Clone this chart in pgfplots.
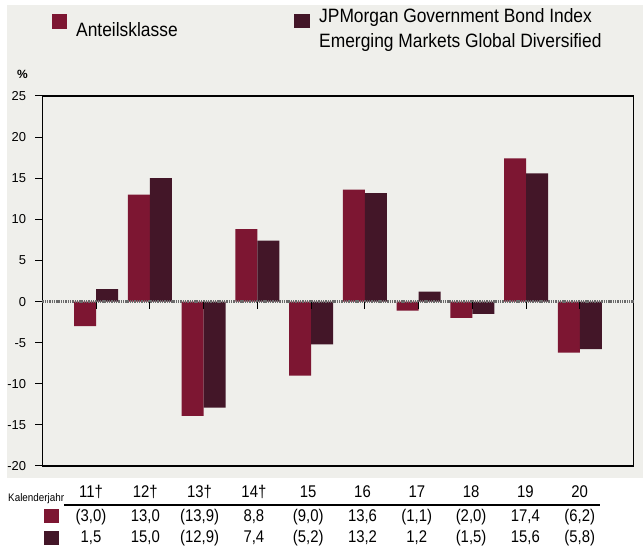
\documentclass[border=0pt]{standalone}
\usepackage{fontspec}
\setmainfont{Liberation Sans}
\newfontfamily\nf[FakeStretch=0.88]{Liberation Sans}
\newfontfamily\lf[FakeStretch=0.9]{Liberation Sans}
\usepackage{pgfplots}
\pgfplotsset{compat=1.18}
\definecolor{cRed}{HTML}{7D1632}
\definecolor{cDark}{HTML}{431628}
\definecolor{cBg}{HTML}{EFEFEB}
\definecolor{cZero}{HTML}{6A6A6A}
\newcommand{\tf}{\nf\fontsize{17}{17}\selectfont}
\begin{document}
\begin{tikzpicture}
\begin{scope}[x=1bp,y=1bp]
\useasboundingbox (0,0) rectangle (643,549);
\fill[white] (0,0) rectangle (643,549);
\fill[cBg] (7,71) rectangle (643,544);
\end{scope}
\begin{axis}[
  at={(42.3bp,83bp)}, anchor=south west,
  width=591.4bp, height=370bp, scale only axis,
  xmin=-1, xmax=10, ymin=-20, ymax=25,
  xtick=\empty,
  ytick={-20,-15,...,25},
  yticklabels={-20,-15,-10,-5,0,5,10,15,20,25},
  ytick pos=left,
  ytick align=outside,
  major tick length=7bp,
  ytick style={draw=black, line width=1bp},
  axis line style={black, line width=1.4bp},
  yticklabel style={font=\fontsize{13}{13}\selectfont, inner sep=0bp, xshift=-9bp},
  clip=false,
]
\addplot[ybar, bar width=22bp, fill=cRed, draw=none, bar shift=-11bp] coordinates {
  (0,-3.0) (1,13.0) (2,-13.9) (3,8.8) (4,-9.0) (5,13.6) (6,-1.1) (7,-2.0) (8,17.4) (9,-6.2)};
\addplot[ybar, bar width=22bp, fill=cDark, draw=none, bar shift=11bp] coordinates {
  (0,1.5) (1,15.0) (2,-12.9) (3,7.4) (4,-5.2) (5,13.2) (6,1.2) (7,-1.5) (8,15.6) (9,-5.8)};
\draw[cZero, line width=2.2bp, dash pattern=on 1.4bp off 0.9bp] (axis cs:-1,0) -- (axis cs:10,0);
\end{axis}
\begin{axis}[
  at={(42.3bp,83bp)}, anchor=south west,
  width=591.4bp, height=370bp, scale only axis,
  xmin=-1, xmax=10, ymin=-20, ymax=25,
  axis x line=middle, axis y line=left,
  xtick={0,...,9}, xticklabels={},
  ytick={-20,-15,...,25}, yticklabels={},
  axis line style={draw=none},
  every tick/.style={draw=black, line width=1bp},
  major tick length=7bp,
  tick align=outside,
]
\end{axis}
\begin{scope}[x=1bp,y=1bp]
% percent label
\node[anchor=base west, inner sep=0, font=\fontsize{12}{12}\selectfont\bfseries] at (17,470) {\%};
% legend
\fill[cRed] (52,520) rectangle (67,535);
\node[anchor=base west, inner sep=0, font=\lf\fontsize{19.4}{19.4}\selectfont] at (76,512) {Anteilsklasse};
\fill[cDark] (294,521) rectangle (310,535);
\node[anchor=base west, inner sep=0, font=\lf\fontsize{19.4}{19.4}\selectfont] at (319,526) {JPMorgan Government Bond Index};
\node[anchor=base west, inner sep=0, font=\lf\fontsize{19.4}{19.4}\selectfont] at (319,501.5) {Emerging Markets Global Diversified};
% table
\node[anchor=base west, inner sep=0, font=\lf\fontsize{11}{11}\selectfont] at (8,47) {Kalenderjahr};
\draw[black, line width=1.5bp] (64,44) -- (600,44);
\fill[cRed] (44,26) rectangle (59,40);
\fill[cDark] (44,4) rectangle (59,18);
\foreach \i/\h/\a/\b in {0/{11†}/{(3,0)}/{1,5}, 1/{12†}/{13,0}/{15,0}, 2/{13†}/{(13,9)}/{(12,9)}, 3/{14†}/{8,8}/{7,4}, 4/{15}/{(9,0)}/{(5,2)}, 5/{16}/{13,6}/{13,2}, 6/{17}/{(1,1)}/{1,2}, 7/{18}/{(2,0)}/{(1,5)}, 8/{19}/{17,4}/{15,6}, 9/{20}/{(6,2)}/{(5,8)}} {
  \node[anchor=base, inner sep=0, font=\tf] at ({91+54.3*\i},51) {\h};
  \node[anchor=base, inner sep=0, font=\tf] at ({91+54.3*\i},27) {\a};
  \node[anchor=base, inner sep=0, font=\tf] at ({91+54.3*\i},6) {\b};
}
\end{scope}
\end{tikzpicture}
\end{document}
